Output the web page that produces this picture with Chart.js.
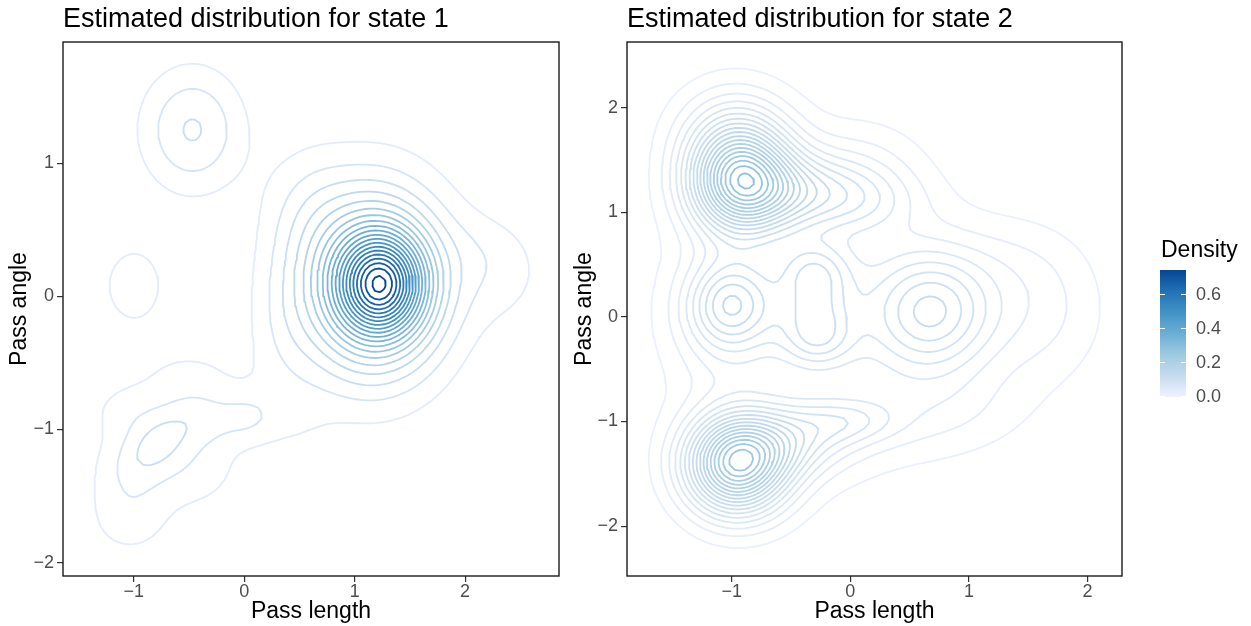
<!DOCTYPE html>
<html><head><meta charset="utf-8">
<script src="https://cdn.jsdelivr.net/npm/chart.js@4.4.1/dist/chart.umd.min.js"></script>
<style>
html,body{margin:0;padding:0;background:#fff;}
#wrap{position:relative;width:1251px;height:626px;overflow:hidden;background:#fff;}
#c1{position:absolute;left:0;top:0;}
#c2{position:absolute;left:566px;top:0;}
</style></head><body>
<div id="wrap"><canvas id="c1" width="566" height="626"></canvas><canvas id="c2" width="685" height="626"></canvas></div>
<script>
// ---------------- data ----------------
const titles = ["Estimated distribution for state 1", "Estimated distribution for state 2"];
const xTitle = "Pass length";
const yTitle = "Pass angle";
const xTicks1 = [-1, 0, 1, 2];
const yTicks1 = [-2, -1, 0, 1];
const xTicks2 = [-1, 0, 1, 2];
const yTicks2 = [-2, -1, 0, 1, 2];
const xRange1 = [-1.64, 2.85];
const yRange1 = [-2.10, 1.91];
const xRange2 = [-1.882, 2.29];
const yRange2 = [-2.477, 2.628];

// density modelled as a sum of bumps estimated from the contours:
// centre x, centre y, spread x, spread y, tilt, peak height
const s1_mx  = [1.24, 1.15, 0.55, 0.35, 2.38, 2.10, -0.47, -1.00,
                -0.78, -1.05, -0.35, 0.05, -1.05, -0.50, -0.45, -1.05, 0.45, -0.60];
const s1_my  = [0.09, 0.10, 0.70, -0.30, 0.18, 0.35, 1.25, 0.085,
                -1.10, -1.35, -0.92, -0.90, -0.85, -0.60, -1.30, -1.72, -0.95, -1.10];
const s1_sx  = [0.26, 0.47, 0.28, 0.22, 0.30, 0.25, 0.33, 0.22,
                0.22, 0.26, 0.25, 0.18, 0.25, 0.30, 0.28, 0.28, 0.25, 0.60];
const s1_sy  = [0.25, 0.49, 0.33, 0.40, 0.30, 0.20, 0.33, 0.235,
                0.17, 0.25, 0.15, 0.14, 0.15, 0.15, 0.20, 0.20, 0.20, 0.50];
const s1_rho = [0, 0, 0, 0, 0, 0, 0, 0,
                0.4, 0, 0, 0, 0, 0, 0, 0, 0, 0];
const s1_h   = [0.40, 0.37, 0.035, 0.03, 0.040, 0.015, 0.116, 0.06,
                0.075, 0.045, 0.055, 0.045, 0.035, 0.035, 0.04, 0.035, 0.02, 0.02];

const s2_mx  = [-0.93, -0.50, 0.10, -1.00, -0.96, -0.55, 0.00, -1.01, -1.05,
                -0.30, -0.30, -0.28, 0.69, -0.20, 1.60, 0.10, 1.30, 0.80];
const s2_my  = [1.32, 1.20, 1.10, 1.80, -1.42, -1.20, -1.00, 0.13, -0.05,
                0.45, 0.12, -0.21, 0.05, 0.00, 0.05, 1.45, 0.55, -0.90];
const s2_sx  = [0.30, 0.40, 0.35, 0.35, 0.30, 0.40, 0.30, 0.25, 0.30,
                0.22, 0.22, 0.22, 0.36, 0.85, 0.40, 0.35, 0.40, 0.50];
const s2_sy  = [0.36, 0.25, 0.22, 0.35, 0.33, 0.25, 0.15, 0.28, 0.45,
                0.20, 0.20, 0.20, 0.40, 1.00, 0.50, 0.30, 0.30, 0.30];
const s2_rho = [0, 0, 0, 0, 0, 0.2, 0, 0, 0,
                0, 0, 0, 0, 0, 0, 0, 0, 0];
const s2_h   = [0.22, 0.08, 0.035, 0.04, 0.22, 0.07, 0.035, 0.081, 0.035,
                0.06, 0.041, 0.06, 0.10, 0.04, 0.03, 0.02, 0.01, 0.02];

// contour levels
const levels1 = [0.0375, 0.075, 0.1125, 0.15, 0.1875, 0.225, 0.2625, 0.3, 0.3375, 0.375,
                 0.4125, 0.45, 0.4875, 0.525, 0.5625, 0.6, 0.6375, 0.675, 0.7125, 0.75];
const levels2 = [0.015, 0.03, 0.045, 0.06, 0.075, 0.09, 0.105, 0.12, 0.135, 0.15,
                 0.165, 0.18, 0.195, 0.21, 0.225, 0.24, 0.255, 0.27, 0.285];

// colour scale
const blues = ["#EFF3FF", "#C6DBEF", "#9ECAE1", "#6BAED6", "#4292C6", "#2171B5", "#084594"];
const legendMax = 0.75;
const legendTicks = [0.0, 0.2, 0.4, 0.6];
const legendTitle = "Density";

// ---------------- helpers ----------------
const FONT = "'Liberation Sans', Arial, Helvetica, sans-serif";

function hexToRgb(h){ return [parseInt(h.slice(1,3),16), parseInt(h.slice(3,5),16), parseInt(h.slice(5,7),16)]; }
const bluesRgb = blues.map(hexToRgb);
function colourFor(v){
  let t = Math.max(0, Math.min(1, v / legendMax)) * (bluesRgb.length - 1);
  const i = Math.min(bluesRgb.length - 2, Math.floor(t)); const f = t - i;
  const a = bluesRgb[i], b = bluesRgb[i+1];
  return 'rgb(' + [0,1,2].map(k => Math.round(a[k] + (b[k]-a[k]) * f)).join(',') + ')';
}

function makeDensity(mx, my, sx, sy, rho, h){
  return function(x, y){
    let s = 0;
    for (let k = 0; k < mx.length; k++){
      const dx = (x - mx[k]) / sx[k], dy = (y - my[k]) / sy[k], r = rho[k];
      const q = (dx*dx - 2*r*dx*dy + dy*dy) / (1 - r*r);
      s += h[k] * Math.exp(-0.5 * q);
    }
    return s;
  };
}

// marching squares -> polylines (separated by gaps) for one level
function contour(f, xr, yr, n, level){
  const nx = n, ny = n;
  const padX = (xr[1]-xr[0]) * 0.02, padY = (yr[1]-yr[0]) * 0.02;
  const x0 = xr[0]-padX, x1 = xr[1]+padX, y0 = yr[0]-padY, y1 = yr[1]+padY;
  const gx = [], gy = [];
  for (let i = 0; i < nx; i++) gx.push(x0 + (x1-x0) * i / (nx-1));
  for (let j = 0; j < ny; j++) gy.push(y0 + (y1-y0) * j / (ny-1));
  const g = [];
  for (let j = 0; j < ny; j++){ const row = []; for (let i = 0; i < nx; i++) row.push(f(gx[i], gy[j])); g.push(row); }
  const pts = new Map();
  function edgePoint(key, xa, ya, va, xb, yb, vb){
    if (!pts.has(key)){ const t = (level - va) / (vb - va); pts.set(key, {x: xa + (xb-xa)*t, y: ya + (yb-ya)*t}); }
    return key;
  }
  const segs = [];
  for (let j = 0; j < ny-1; j++){
    for (let i = 0; i < nx-1; i++){
      const v0 = g[j][i], v1 = g[j][i+1], v2 = g[j+1][i+1], v3 = g[j+1][i];
      const c = (v0>level?1:0)|(v1>level?2:0)|(v2>level?4:0)|(v3>level?8:0);
      if (c === 0 || c === 15) continue;
      const E = [];
      E[0] = () => edgePoint('h'+i+','+j, gx[i], gy[j], v0, gx[i+1], gy[j], v1);
      E[1] = () => edgePoint('v'+(i+1)+','+j, gx[i+1], gy[j], v1, gx[i+1], gy[j+1], v2);
      E[2] = () => edgePoint('h'+i+','+(j+1), gx[i], gy[j+1], v3, gx[i+1], gy[j+1], v2);
      E[3] = () => edgePoint('v'+i+','+j, gx[i], gy[j], v0, gx[i], gy[j+1], v3);
      const cross = [(v0>level)!==(v1>level), (v1>level)!==(v2>level), (v3>level)!==(v2>level), (v0>level)!==(v3>level)];
      const idx = []; for (let e = 0; e < 4; e++) if (cross[e]) idx.push(e);
      if (idx.length === 2){ segs.push([E[idx[0]](), E[idx[1]]()]); }
      else if (idx.length === 4){
        const centre = (v0+v1+v2+v3)/4 > level;
        if (c === 5){
          if (centre){ segs.push([E[0](),E[1]()]); segs.push([E[2](),E[3]()]); }
          else { segs.push([E[3](),E[0]()]); segs.push([E[1](),E[2]()]); }
        } else {
          if (centre){ segs.push([E[0](),E[3]()]); segs.push([E[1](),E[2]()]); }
          else { segs.push([E[0](),E[1]()]); segs.push([E[2](),E[3]()]); }
        }
      }
    }
  }
  const adj = new Map();
  segs.forEach((s, k) => { for (const key of s){ if (!adj.has(key)) adj.set(key, []); adj.get(key).push(k); } });
  const used = new Array(segs.length).fill(false);
  const out = [];
  function walk(start){
    const chain = []; let cur = start;
    while (true){
      const list = adj.get(cur) || []; let nxt = -1;
      for (const t of list) if (!used[t]){ nxt = t; break; }
      if (nxt < 0) break;
      used[nxt] = true; const [a, b] = segs[nxt]; cur = (a === cur) ? b : a; chain.push(cur);
    }
    return chain;
  }
  for (let s = 0; s < segs.length; s++){
    if (used[s]) continue;
    used[s] = true;
    const fwd = walk(segs[s][1]);
    const bwd = walk(segs[s][0]);
    const keys = bwd.reverse().concat([segs[s][0], segs[s][1]], fwd);
    for (const k of keys) out.push(pts.get(k));
    out.push({x: null, y: null});
  }
  return out;
}

function fmt(v){ return v < 0 ? '\u2212' + Math.abs(v) : String(v); }

const framePlugin = {
  id: 'frame',
  afterDraw(chart){
    const a = chart.chartArea, ctx = chart.ctx;
    ctx.save(); ctx.strokeStyle = '#1a1a1a'; ctx.lineWidth = 1.4;
    ctx.strokeRect(a.left, a.top, a.right - a.left, a.bottom - a.top);
    ctx.restore();
  }
};

const legendPlugin = {
  id: 'densityLegend',
  afterDraw(chart){
    const ctx = chart.ctx;
    const bx = 594, bw = 26, top = 270, bot = 397;
    ctx.save();
    for (let y = top; y < bot; y++){
      ctx.fillStyle = colourFor((bot - (y + 0.5)) / (bot - top) * legendMax);
      ctx.fillRect(bx, y, bw, 1);
    }
    ctx.strokeStyle = '#ffffff'; ctx.lineWidth = 1;
    ctx.fillStyle = '#4d4d4d'; ctx.font = '18px ' + FONT; ctx.textBaseline = 'middle'; ctx.textAlign = 'left';
    for (const v of legendTicks){
      const y = Math.round(bot - v / legendMax * (bot - top)) - 0.5;
      ctx.beginPath(); ctx.moveTo(bx, y); ctx.lineTo(bx + 5, y); ctx.moveTo(bx + bw - 5, y); ctx.lineTo(bx + bw, y); ctx.stroke();
      ctx.fillText(v.toFixed(1), bx + 36, y + 1);
    }
    ctx.fillStyle = '#000'; ctx.font = '23px ' + FONT; ctx.textBaseline = 'alphabetic';
    ctx.fillText(legendTitle, bx + 1, 257);
    ctx.restore();
  }
};

function buildDatasets(f, xr, yr, levels){
  return levels.map(L => ({
    data: contour(f, xr, yr, 110, L),
    showLine: true, pointRadius: 0, borderWidth: 1.8, borderColor: colourFor(L),
    spanGaps: false, fill: false, tension: 0, borderJoinStyle: 'round'
  }));
}

function makeChart(canvas, cfg){
  const tickFont = {family: FONT, size: 18, lineHeight: 1};
  const titleFont = {family: FONT, size: 23, lineHeight: 1.2};
  return new Chart(canvas, {
    type: 'scatter',
    data: {datasets: cfg.datasets},
    options: {
      animation: false, responsive: false, devicePixelRatio: 1,
      layout: {padding: {left: 0, right: cfg.padRight, top: 0, bottom: 0}},
      plugins: {
        legend: {display: false}, tooltip: {enabled: false},
        title: {display: true, text: cfg.title, align: 'start', fullSize: false, color: '#000',
                font: {family: FONT, size: 27, weight: 'normal', lineHeight: 1}, padding: {top: 6, bottom: 9}}
      },
      scales: {
        x: {
          type: 'linear', min: cfg.xr[0], max: cfg.xr[1],
          afterBuildTicks: s => { s.ticks = cfg.xt.map(v => ({value: v})); },
          afterFit: s => { s.height = 50; },
          grid: {display: true, drawOnChartArea: false, drawTicks: true, tickLength: 6, color: '#333333', lineWidth: 1.2},
          border: {display: false},
          ticks: {color: '#4d4d4d', font: tickFont, padding: 1, maxRotation: 0, autoSkip: false, callback: v => fmt(v)},
          title: {display: true, text: xTitle, color: '#000', font: titleFont, padding: {top: 0, bottom: 1}}
        },
        y: {
          type: 'linear', min: cfg.yr[0], max: cfg.yr[1],
          afterBuildTicks: s => { s.ticks = cfg.yt.map(v => ({value: v})); },
          afterFit: s => { s.width = cfg.yAxisW; },
          grid: {display: true, drawOnChartArea: false, drawTicks: true, tickLength: 6, color: '#333333', lineWidth: 1.2},
          border: {display: false},
          ticks: {color: '#4d4d4d', font: tickFont, padding: 3, autoSkip: false, callback: v => fmt(v)},
          title: {display: true, text: yTitle, color: '#000', font: titleFont, padding: {top: cfg.yTitlePad, bottom: 0}}
        }
      }
    },
    plugins: cfg.plugins
  });
}

const f1 = makeDensity(s1_mx, s1_my, s1_sx, s1_sy, s1_rho, s1_h);
const f2 = makeDensity(s2_mx, s2_my, s2_sx, s2_sy, s2_rho, s2_h);

makeChart(document.getElementById('c1'), {
  title: titles[0], xr: xRange1, yr: yRange1, xt: xTicks1, yt: yTicks1,
  datasets: buildDatasets(f1, xRange1, yRange1, levels1),
  padRight: 7, yAxisW: 63, yTitlePad: 6, plugins: [framePlugin]
});
makeChart(document.getElementById('c2'), {
  title: titles[1], xr: xRange2, yr: yRange2, xt: xTicks2, yt: yTicks2,
  datasets: buildDatasets(f2, xRange2, yRange2, levels2),
  padRight: 129, yAxisW: 61, yTitlePad: 5, plugins: [framePlugin, legendPlugin]
});
</script>
</body></html>
